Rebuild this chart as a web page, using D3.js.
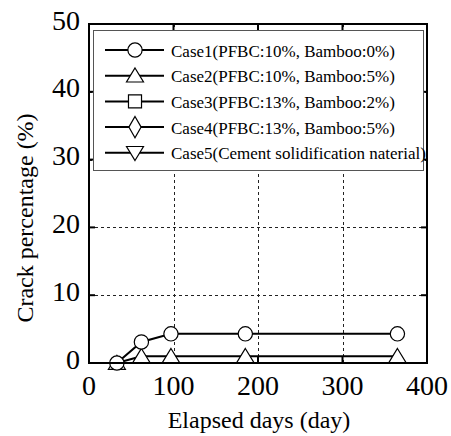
<!DOCTYPE html>
<html>
<head>
<meta charset="utf-8">
<script src="https://cdn.jsdelivr.net/npm/d3@7"></script>
<style>
  body { margin: 0; background: #fff; }
  svg { display: block; }
  text { font-family: "Liberation Serif", "Times New Roman", Times, "DejaVu Serif", serif; }
</style>
</head>
<body>
<svg id="chart" width="451" height="436"></svg>
<script>
// data
var days = [33, 62, 97, 185, 365];
var case1 = [0, 3.1, 4.3, 4.3, 4.3];
var case2 = [0, 1.0, 1.0, 1.0, 1.0];
var xTicks = [0, 100, 200, 300, 400];
var yTicks = [0, 10, 20, 30, 40, 50];
var legendLabels = [
  'Case1(PFBC:10%, Bamboo:0%)',
  'Case2(PFBC:10%, Bamboo:5%)',
  'Case3(PFBC:13%, Bamboo:2%)',
  'Case4(PFBC:13%, Bamboo:5%)',
  'Case5(Cement solidification naterial)'
];
var legendSymbols = ['circle', 'triangle', 'square', 'diamond', 'triangleDown'];

var svg = d3.select('#chart');
var L = 89, R = 427, T = 24, B = 363;

var x = d3.scaleLinear().domain([0, 400]).range([L, R]);
var y = d3.scaleLinear().domain([0, 50]).range([B, T]);

// grid
var grid = svg.append('g').attr('stroke', '#222').attr('stroke-width', 1).attr('stroke-dasharray', '3,3');
grid.selectAll('.gx').data([100, 200, 300]).enter().append('line')
  .attr('x1', d => Math.round(x(d)) + 0.5).attr('x2', d => Math.round(x(d)) + 0.5)
  .attr('y1', T).attr('y2', B);
grid.selectAll('.gy').data([10, 20, 30, 40]).enter().append('line')
  .attr('y1', d => Math.round(y(d)) + 0.5).attr('y2', d => Math.round(y(d)) + 0.5)
  .attr('x1', L).attr('x2', R);

// inward ticks on all four sides
var ticks = svg.append('g').attr('stroke', '#000').attr('stroke-width', 2);
xTicks.slice(1, -1).forEach(function(d) {
  ticks.append('line').attr('x1', x(d)).attr('x2', x(d)).attr('y1', B).attr('y2', B - 6);
  ticks.append('line').attr('x1', x(d)).attr('x2', x(d)).attr('y1', T).attr('y2', T + 6);
});
yTicks.slice(1, -1).forEach(function(d) {
  ticks.append('line').attr('y1', y(d)).attr('y2', y(d)).attr('x1', L).attr('x2', L + 6);
  ticks.append('line').attr('y1', y(d)).attr('y2', y(d)).attr('x1', R).attr('x2', R - 6);
});

// tick labels
svg.append('g').selectAll('text').data(xTicks).enter().append('text')
  .attr('x', d => x(d)).attr('y', 395)
  .attr('text-anchor', 'middle').attr('font-size', 28)
  .text(d => d);
svg.append('g').selectAll('text').data(yTicks).enter().append('text')
  .attr('x', 80).attr('y', d => y(d) + 5.5)
  .attr('text-anchor', 'end').attr('font-size', 28)
  .text(d => d);

// axis titles
svg.append('text').attr('x', 259).attr('y', 428)
  .attr('text-anchor', 'middle').attr('font-size', 24)
  .text('Elapsed days (day)');
svg.append('text')
  .attr('transform', 'translate(33,' + 218 + ') rotate(-90)')
  .attr('text-anchor', 'middle').attr('font-size', 24)
  .text('Crack percentage (%)');

// series
var line = d3.line().x(d => x(d[0])).y(d => y(d[1]));
var s1 = days.map((d, i) => [d, case1[i]]);
var s2 = days.map((d, i) => [d, case2[i]]);

function symbolPath(kind) {
  if (kind === 'circle') return d3.symbol(d3.symbolCircle, 160)();
  if (kind === 'square') return d3.symbol(d3.symbolSquare, 170)();
  if (kind === 'diamond') return d3.symbol(d3.symbolDiamond, 130)();
  var h = 14, w = 17;
  if (kind === 'triangle') return 'M0,' + (-h * 0.55) + 'L' + (w / 2) + ',' + (h * 0.45) + 'L' + (-w / 2) + ',' + (h * 0.45) + 'Z';
  return 'M0,' + (h * 0.55) + 'L' + (w / 2) + ',' + (-h * 0.45) + 'L' + (-w / 2) + ',' + (-h * 0.45) + 'Z';
}

[[s2, 'triangle'], [s1, 'circle']].forEach(function(s) {
  svg.append('path').datum(s[0]).attr('d', line)
    .attr('fill', 'none').attr('stroke', '#000').attr('stroke-width', 2);
});
[[s2, 'triangle'], [s1, 'circle']].forEach(function(s) {
  svg.append('g').selectAll('path').data(s[0]).enter().append('path')
    .attr('transform', d => 'translate(' + x(d[0]) + ',' + y(d[1]) + ')')
    .attr('d', symbolPath(s[1]))
    .attr('fill', '#fff').attr('stroke', '#000').attr('stroke-width', 1.2);
});

// legend
var lg = svg.append('g');
lg.append('rect').attr('x', 93.5).attr('y', 30.5).attr('width', 330).attr('height', 140)
  .attr('fill', '#fff').attr('stroke', '#555').attr('stroke-width', 1);
legendLabels.forEach(function(t, i) {
  var cy = 50 + i * 25.7;
  lg.append('line').attr('x1', 105).attr('x2', 164).attr('y1', cy).attr('y2', cy)
    .attr('stroke', '#000').attr('stroke-width', 2);
  lg.append('path').attr('transform', 'translate(135,' + cy + ')')
    .attr('d', symbolPath(legendSymbols[i]))
    .attr('fill', '#fff').attr('stroke', '#000').attr('stroke-width', 1.2);
  lg.append('text').attr('x', 171).attr('y', cy + 6.5).attr('font-size', 17).text(t);
});

// frame
svg.append('rect').attr('x', L).attr('y', T).attr('width', R - L).attr('height', B - T)
  .attr('fill', 'none').attr('stroke', '#000').attr('stroke-width', 2);
</script>
</body>
</html>
